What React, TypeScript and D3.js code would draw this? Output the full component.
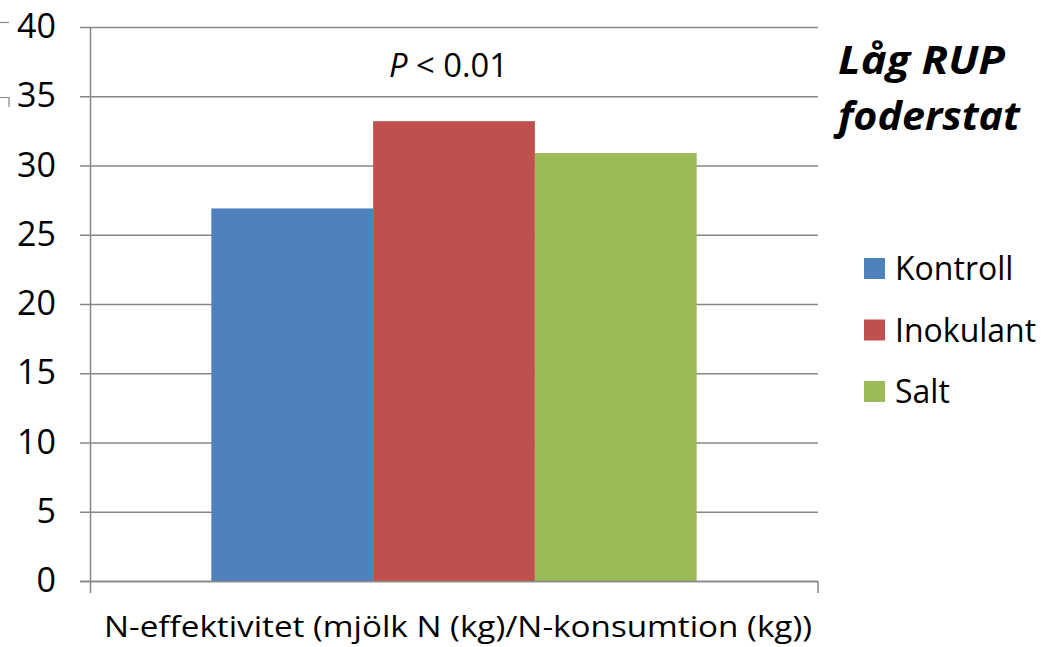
import React from "react";
import * as d3 from "d3";

const categories = ["N-effektivitet (mjölk N (kg)/N-konsumtion (kg))"];
const seriesNames = ["Kontroll", "Inokulant", "Salt"];
const seriesValues = [26.9, 33.2, 30.9];
const seriesColors = ["#4F81BD", "#C0504D", "#9BBB59"];
const yTicks = [0, 5, 10, 15, 20, 25, 30, 35, 40];

const W = 1041;
const H = 647;
const plot = { left: 90, right: 818, top: 27, bottom: 581 };
const FONT = "'Open Sans', 'Noto Sans', sans-serif";
const GRID = "#878787";

export default function App() {
  const y = d3.scaleLinear().domain([0, 40]).range([plot.bottom, plot.top]);
  const x0 = d3
    .scaleBand<string>()
    .domain(categories)
    .range([plot.left, plot.right])
    .paddingInner(0)
    .paddingOuter(0);
  // gap width of 150% of a bar, split on both sides of the group
  const groupW = x0.bandwidth();
  const barW = groupW / (seriesNames.length + 1.5);
  const x1 = d3
    .scaleBand<string>()
    .domain(seriesNames)
    .range([0, barW * seriesNames.length]);
  const groupStart = (x0(categories[0]) ?? 0) + (groupW - barW * seriesNames.length) / 2;

  return (
    <div style={{ position: "absolute", left: 0, top: 0 }}>
      <svg width={W} height={H} style={{ display: "block", background: "#fff" }}>
        {/* gridlines with left tick stubs */}
        {yTicks.map((t) => (
          <line
            key={"g" + t}
            x1={plot.left - 10}
            x2={plot.right}
            y1={y(t) + 0.5}
            y2={y(t) + 0.5}
            stroke={GRID}
            strokeWidth={1.5}
          />
        ))}
        {/* bars */}
        {seriesNames.map((s, i) => (
          <rect
            key={s}
            x={groupStart + (x1(s) ?? 0)}
            y={y(seriesValues[i])}
            width={x1.bandwidth()}
            height={y(0) - y(seriesValues[i])}
            fill={seriesColors[i]}
          />
        ))}
        {/* y axis line */}
        <line x1={plot.left + 0.5} x2={plot.left + 0.5} y1={plot.top} y2={plot.bottom + 12} stroke={GRID} strokeWidth={1.5} />
        {/* x axis line and end ticks */}
        <line x1={plot.left - 10} x2={plot.right} y1={plot.bottom + 0.5} y2={plot.bottom + 0.5} stroke={GRID} strokeWidth={1.5} />
        <line x1={plot.right} x2={plot.right} y1={plot.bottom} y2={plot.bottom + 12} stroke={GRID} strokeWidth={1.5} />
        {/* small marks at the left edge */}
        <line x1={0} x2={9} y1={22.5} y2={22.5} stroke={GRID} strokeWidth={1.2} />
        <path d="M0,97.5 H9 V107" fill="none" stroke={GRID} strokeWidth={1.2} />
        {/* y tick labels */}
        {yTicks.map((t) => (
          <text
            key={"t" + t}
            x={56}
            y={y(t) + 11}
            textAnchor="end"
            fontFamily={FONT}
            fontSize={34}
            fill="#000"
          >
            {t}
          </text>
        ))}
        {/* category label */}
        <text
          x={(plot.left + plot.right) / 2 + 4}
          y={637}
          textAnchor="middle"
          fontFamily={FONT}
          fontSize={29}
          textLength={708}
          lengthAdjust="spacingAndGlyphs"
          fill="#000"
        >
          {categories[0]}
        </text>
        {/* significance annotation */}
        <text x={389} y={77} fontFamily={FONT} fontSize={33} fill="#000" textLength={119} lengthAdjust="spacingAndGlyphs">
          <tspan fontStyle="italic">P</tspan>
          <tspan> &lt; 0.01</tspan>
        </text>
        {/* title */}
        <text fontFamily={FONT} fontSize={40} fontWeight="bold" fontStyle="italic" fill="#000">
          <tspan x={838} y={74} textLength={167} lengthAdjust="spacingAndGlyphs">Låg RUP</tspan>
          <tspan x={838} y={130} textLength={182} lengthAdjust="spacingAndGlyphs">foderstat</tspan>
        </text>
        {/* legend */}
        {seriesNames.map((s, i) => (
          <g key={"l" + s} transform={`translate(864, ${258 + i * 61.5})`}>
            <rect x={0} y={0} width={21} height={21} fill={seriesColors[i]} />
            <text x={31} y={22} fontFamily={FONT} fontSize={32} fill="#000">
              {s}
            </text>
          </g>
        ))}
      </svg>
    </div>
  );
}
